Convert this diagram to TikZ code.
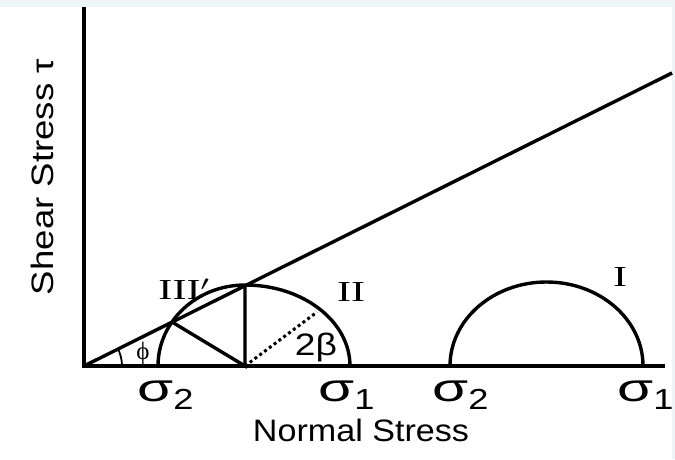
\documentclass[tikz,border=0pt]{standalone}
\usepackage{fontspec}
\setmainfont{Liberation Serif}
\setsansfont{Liberation Sans}
\usetikzlibrary{positioning, calc}

\definecolor{rim}{HTML}{EDF5F7}

\newcommand{\sgm}[1]{\scalebox{1.5}[1]{σ}\scalebox{1.25}[1]{\raisebox{-8pt}{\fontsize{29}{29}\selectfont #1}}}
\newcommand{\rmn}[1]{\scalebox{1.45}[1]{#1}}

\begin{document}
\begin{tikzpicture}[
  x=1pt, y=1pt,
  axis/.style  = {line width=3.6pt, black},
  curve/.style = {line width=3.4pt, black},
  sig/.style   = {font=\sffamily\fontsize{39}{39}\selectfont, inner sep=0pt, anchor=base west},
  roman/.style = {font=\rmfamily\fontsize{29}{29}\selectfont, inner sep=0pt},
  lbl/.style   = {font=\sffamily\fontsize{31}{31}\selectfont, inner sep=0pt}
]

%% ---- frame ----
\fill[rim] (0,0) rectangle (675,459);
\fill[white] (0,0) rectangle (672,452);
\useasboundingbox (0,0) rectangle (675,459);

%% ---- axes ----
\coordinate (O)  at (84,93);
\coordinate (yt) at (84,452);
\coordinate (xr) at (665,93);
\draw[axis] (yt) -- (O) -- (xr);

%% ---- failure envelope ----
\coordinate (fe) at (672,386);
\draw[curve] (O) -- (fe);
\draw[line width=1.8pt] ($(O)+(38,0)$) arc[start angle=0, end angle=26.5, radius=38];
\node[font=\rmfamily\fontsize{25}{25}\selectfont, inner sep=0pt] (phi) at (143,106) {ϕ};

%% ---- circle II ----
\coordinate (c2)  at (245,93);
\coordinate (c2l) at (158,93);
\coordinate (top) at (245,174);
\coordinate (tp)  at (172,137);
\coordinate (dd)  at (317,147);
\draw[curve] (c2l) arc[start angle=180, end angle=90, x radius=87, y radius=81]
  arc[start angle=90, end angle=0, x radius=105, y radius=81];
\draw[curve] (tp) -- (c2) -- (top);
\draw[line width=3pt, dash pattern=on 3pt off 3pt] (c2) -- (dd);
\node[font=\sffamily\fontsize{31}{31}\selectfont, inner sep=0pt] (beta) at (316,112) {\scalebox{1.2}[1]{2β}};

%% ---- circle I ----
\coordinate (c1l) at (450,93);
\draw[curve] (c1l) arc[start angle=180, end angle=0, x radius=96.5, y radius=84];

%% ---- labels ----
\node[roman] (r3) at (184,170) {\rmn{III$'$}};
\node[roman] (r2) at (351,167) {\rmn{II}};
\node[roman] (r1) at (620,182) {\rmn{I}};

\node[sig] (s2a) at (137,58) {\sgm{2}};
\node[sig] (s1a) at (318,58) {\sgm{1}};
\node[sig] (s2b) at (432,58) {\sgm{2}};
\node[sig] (s1b) at (617,58) {\sgm{1}};

\node[lbl] (xl) at (361,29) {\scalebox{1.1}[1]{Normal Stress}};
\node[lbl, rotate=90] (yl) at (42,282) {\scalebox{1.18}[1]{Shear Stress τ}};

\end{tikzpicture}
\end{document}
